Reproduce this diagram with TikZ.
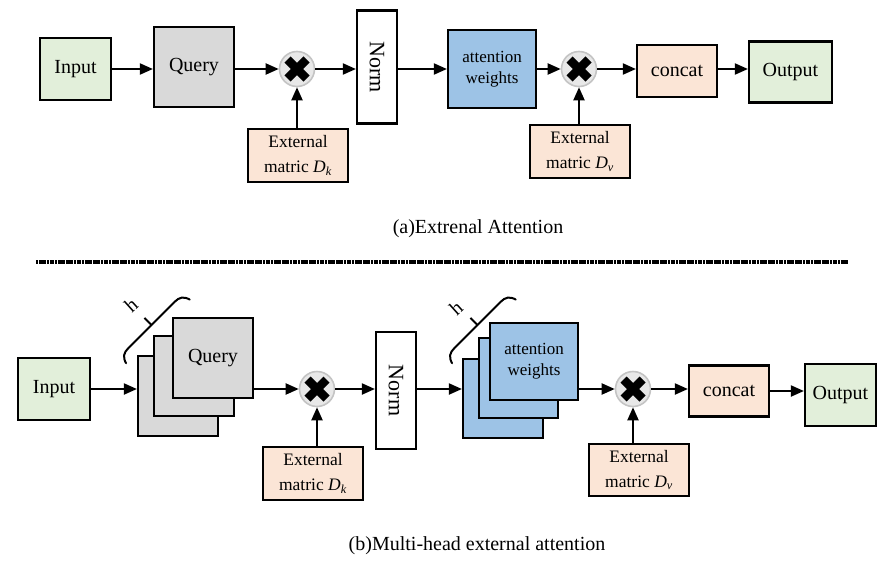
\documentclass[tikz,border=0pt]{standalone}
\usepackage{fontspec}
\setmainfont{Liberation Serif}
\usetikzlibrary{arrows.meta}

\definecolor{inputgreen}{HTML}{E2EFDA}
\definecolor{querygray}{HTML}{D9D9D9}
\definecolor{attblue}{HTML}{9DC3E6}
\definecolor{peach}{HTML}{FBE5D6}
\definecolor{ringgray}{HTML}{C4C4C4}
\definecolor{discgray}{HTML}{E8E8E8}

\newcommand{\extmat}[1]{External\\matric \textit{D}\textsubscript{\textit{#1}}}
% bracket that marks the h stacked heads; #1 = centre of its straight part
\newcommand{\headbracket}[1]{%
  \begin{scope}[shift={#1}, rotate=45]
    \draw[line width=2pt, line cap=round]
      (-45,9) .. controls (-43,2) and (-39,0) .. (-33,0) -- (33,0)
      .. controls (39,0) and (43,2) .. (45,9);
    \draw[line width=2pt] (0,0) -- (0,-10);
  \end{scope}}

\begin{document}
\begin{tikzpicture}[x=1pt,y=-1pt,
  box/.style={draw, line width=2.2pt, inner sep=0pt, align=center,
              font=\fontsize{20}{24}\selectfont},
  greenbox/.style={box, fill=inputgreen, minimum width=71pt, minimum height=62pt},
  querybox/.style={box, fill=querygray, minimum width=80pt, minimum height=80pt},
  attbox/.style={box, fill=attblue, font=\fontsize{17}{21}\selectfont},
  normbox/.style={box, fill=white, minimum width=40pt, font=\fontsize{22}{26}\selectfont},
  extbox/.style={box, fill=peach, minimum width=100pt, minimum height=53pt,
                 font=\fontsize{17.5}{25}\selectfont},
  catbox/.style={box, fill=peach, minimum width=80pt, minimum height=52pt},
  arr/.style={line width=2pt, -{Triangle[length=13pt,width=11pt]}},
  mult/.style={circle, draw=ringgray, fill=discgray, line width=1.6pt,
    minimum size=35pt, inner sep=0pt,
    path picture={
      \draw[black, line width=8.5pt]
        ([shift={(-9.5pt,-9.5pt)}]path picture bounding box.center) --
        ([shift={(9.5pt,9.5pt)}]path picture bounding box.center);
      \draw[black, line width=8.5pt]
        ([shift={(-9.5pt,9.5pt)}]path picture bounding box.center) --
        ([shift={(9.5pt,-9.5pt)}]path picture bounding box.center);
    }},
  caption/.style={font=\fontsize{20}{24}\selectfont},
]
\useasboundingbox (0,0) rectangle (888,562);

% ---------- (a) external attention ----------
\node[greenbox] (in1) at (75.5,69) {Input};
\node[querybox] (q1) at (194,67) {Query};
\node[mult] (m1) at (297,69) {};
\node[extbox] (dk1) at (298,155.5) {\extmat{k}};
\node[normbox, minimum height=113pt] (n1) at (377,67) {\rotatebox{-90}{Norm}};
\node[attbox, minimum width=88pt, minimum height=78pt] (a1) at (492,69) {attention\\weights};
\node[mult] (m2) at (579,69) {};
\node[extbox] (dv1) at (580,151.5) {\extmat{v}};
\node[catbox] (c1) at (677,71) {concat};
\node[greenbox, minimum width=83pt, minimum height=61pt] (o1) at (790.5,72) {Output};

\draw[arr] (in1.east |- m1) -- (in1.east -| q1.west);
\draw[arr] (q1.east |- m1) -- (m1.west);
\draw[arr] (dk1.north -| m1) -- (m1.south);
\draw[arr] (m1.east) -- (m1 -| n1.west);
\draw[arr] (n1.east |- m1) -- (m1 -| a1.west);
\draw[arr] (a1.east |- m2) -- (m2.west);
\draw[arr] (dv1.north -| m2) -- (m2.south);
\draw[arr] (m2.east) -- (m2 -| c1.west);
\draw[arr] (c1.east |- m2) -- (m2 -| o1.west);

\node[caption] (capa) at (478,229) {(a)Extrenal Attention};

% separator
\coordinate (sepl) at (36,262);
\coordinate (sepr) at (848,262);
\draw[line width=4pt, dash pattern=on 2.2pt off 0.5pt] (sepl) -- (sepr);

% ---------- (b) multi-head external attention ----------
\node[greenbox, minimum width=72pt] (in2) at (54,389) {Input};

\node[querybox] (qb) at (178,396) {};
\node[querybox] (qm) at (194,376) {};
\node[querybox] (qf) at (213,358) {Query};

\node[mult] (m3) at (317,389) {};
\node[extbox] (dk2) at (313,473.5) {\extmat{k}};
\node[normbox, minimum height=117pt] (n2) at (396,390.5) {\rotatebox{-90}{Norm}};

\node[attbox, minimum width=80pt, minimum height=79pt] (ab) at (503,398.5) {};
\node[attbox, minimum width=79pt, minimum height=80pt] (am) at (518.5,378) {};
\node[attbox, minimum width=88pt, minimum height=77pt] (af) at (534,361.5) {attention\\weights};

\node[mult] (m4) at (633,389) {};
\node[extbox, minimum height=52pt] (dv2) at (639,470) {\extmat{v}};
\node[catbox, minimum height=51pt] (c2) at (729,391) {concat};
\node[greenbox, minimum width=71pt, minimum height=62pt] (o2) at (840.5,395) {Output};

\draw[arr] (in2.east) -- (in2.east -| qb.west);
\draw[arr] (qf.east |- m3) -- (m3.west);
\draw[arr] (dk2.north -| m3) -- (m3.south);
\draw[arr] (m3.east) -- (m3 -| n2.west);
\draw[arr] (n2.east |- m3) -- (m3 -| ab.west);
\draw[arr] (af.east |- m4) -- (m4.west);
\draw[arr] (dv2.north -| m4) -- (m4.south);
\draw[arr] (m4.east) -- (m4 -| c2.west);
\draw[arr] (c2.east) -- (c2 -| o2.west);

% head-count brackets
\headbracket{(151.5,325)}
\node[caption, rotate=42] (h1) at (131,305) {h};
\headbracket{(477.5,325)}
\node[caption, rotate=42] (h2) at (456,308) {h};

\node[caption] (capb) at (477,546) {(b)Multi-head external attention};
\end{tikzpicture}
\end{document}
